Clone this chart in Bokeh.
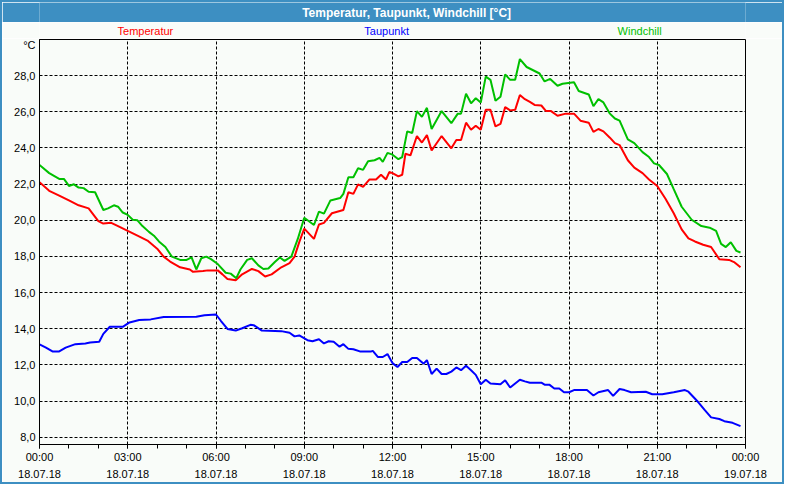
from bokeh.plotting import figure
from bokeh.models import Range1d, FixedTicker, Label
from bokeh.layouts import column
from bokeh.core.properties import value
from bokeh.embed import file_html
from bokeh.resources import INLINE

TITLE = "Temperatur, Taupunkt, Windchill [°C]"
UNIT = "°C"
SERIES_NAMES = ["Temperatur", "Taupunkt", "Windchill"]

X_TICKS = [0, 3, 6, 9, 12, 15, 18, 21, 24]
X_MINOR = list(range(0, 25))
X_TICK_LABELS = ["00:00\n18.07.18", "03:00\n18.07.18", "06:00\n18.07.18",
                 "09:00\n18.07.18", "12:00\n18.07.18", "15:00\n18.07.18",
                 "18:00\n18.07.18", "21:00\n18.07.18", "00:00\n19.07.18"]
Y_TICKS = [8, 10, 12, 14, 16, 18, 20, 22, 24, 26, 28]
Y_TICK_LABELS = ["8,0", "10,0", "12,0", "14,0", "16,0", "18,0", "20,0",
                 "22,0", "24,0", "26,0", "28,0"]

# time in hours since 18.07.18 00:00
TEMP_T = [0.0, 0.33, 0.67, 1.0, 1.33, 1.67, 2.0, 2.17, 2.44, 2.67, 3.0, 3.33, 3.67,
          4.0, 4.22, 4.44, 4.78, 5.11, 5.22, 5.56, 5.72, 6.06, 6.22, 6.39, 6.67,
          6.89, 7.22, 7.44, 7.67, 7.89, 8.22, 8.5, 8.67, 8.83, 9.0, 9.33, 9.5,
          9.67, 9.94, 10.33, 10.5, 10.67, 10.83, 11.0, 11.22, 11.44, 11.61, 11.78,
          11.89, 12.0, 12.2, 12.33, 12.44, 12.61, 12.83, 13.0, 13.17, 13.33,
          13.67, 14.0, 14.17, 14.33, 14.5, 14.67, 14.83, 15.0, 15.17, 15.33,
          15.5, 15.67, 15.83, 16.0, 16.17, 16.33, 16.5, 16.67, 16.83, 17.06,
          17.22, 17.39, 17.61, 17.89, 18.17, 18.39, 18.67, 18.83, 19.0, 19.17,
          19.39, 19.56, 19.72, 20.0, 20.22, 20.5, 20.72, 21.0, 21.28, 21.56,
          21.83, 22.06, 22.28, 22.56, 22.83, 23.11, 23.44, 23.61, 23.83]
TEMP_V = [22.11, 21.63, 21.37, 21.10, 20.83, 20.66, 19.95, 19.82, 19.86, 19.68,
          19.41, 19.15, 18.88, 18.43, 17.99, 17.72, 17.40, 17.28, 17.15, 17.19,
          17.23, 17.23, 17.01, 16.75, 16.69, 17.01, 17.31, 17.19, 16.89, 17.01,
          17.40, 17.63, 17.99, 18.79, 19.54, 18.97, 19.77, 19.86, 20.39, 20.57,
          21.55, 21.46, 21.99, 21.85, 22.26, 22.26, 22.52, 22.26, 22.67, 22.61,
          22.43, 22.52, 23.68, 23.59, 24.66, 24.30, 24.71, 23.86, 24.66, 23.98,
          24.44, 24.44, 25.40, 25.01, 25.23, 25.01, 26.11, 26.11, 25.19, 25.33,
          26.26, 26.08, 26.11, 26.93, 26.70, 26.55, 26.38, 26.35, 26.04, 26.04,
          25.78, 25.90, 25.90, 25.51, 25.40, 24.89, 25.05, 24.92, 24.57, 24.27,
          24.16, 23.32, 22.91, 22.61, 22.26, 21.90, 21.19, 20.39, 19.50, 19.00,
          18.83, 18.65, 18.52, 17.85, 17.81, 17.69, 17.40]

DEW_T = [0.0, 0.22, 0.44, 0.67, 0.89, 1.22, 1.56, 1.72, 2.03, 2.17, 2.39, 2.83,
         3.06, 3.39, 3.78, 4.22, 5.33, 5.61, 6.0, 6.17, 6.39, 6.67, 6.89, 7.17,
         7.28, 7.56, 8.22, 8.5, 8.67, 8.83, 9.11, 9.28, 9.5, 9.67, 9.83, 10.0,
         10.2, 10.33, 10.5, 10.67, 10.89, 11.28, 11.33, 11.5, 11.67, 11.83, 12.0,
         12.17, 12.33, 12.5, 12.67, 12.83, 13.06, 13.17, 13.33, 13.5, 13.67,
         13.83, 14.0, 14.17, 14.33, 14.5, 14.67, 14.83, 15.0, 15.17, 15.33,
         15.67, 15.83, 16.0, 16.33, 16.5, 16.67, 17.06, 17.17, 17.33, 17.5,
         17.67, 17.83, 18.0, 18.17, 18.61, 18.83, 19.0, 19.33, 19.5, 19.72,
         19.89, 20.11, 20.61, 20.83, 21.17, 21.56, 21.94, 22.06, 22.39, 22.61,
         22.83, 23.11, 23.28, 23.56, 23.83]
DEW_V = [13.14, 12.96, 12.75, 12.75, 12.96, 13.15, 13.19, 13.24, 13.28, 13.72,
         14.11, 14.11, 14.35, 14.49, 14.52, 14.65, 14.67, 14.75, 14.79, 14.43,
         13.99, 13.90, 14.03, 14.22, 14.20, 13.90, 13.87, 13.78, 13.58, 13.63,
         13.37, 13.31, 13.42, 13.19, 13.31, 13.28, 13.01, 13.15, 12.89, 12.87,
         12.75, 12.75, 12.78, 12.44, 12.44, 12.60, 12.10, 11.89, 12.16, 12.16,
         12.39, 12.39, 12.07, 12.27, 11.50, 11.80, 11.50, 11.50, 11.63, 11.86,
         11.71, 11.95, 11.71, 11.45, 10.93, 11.18, 10.97, 10.93, 11.15, 10.75,
         11.18, 11.09, 11.02, 11.02, 10.91, 10.91, 10.70, 10.70, 10.49, 10.49,
         10.61, 10.61, 10.31, 10.49, 10.61, 10.29, 10.67, 10.61, 10.49, 10.52,
         10.38, 10.38, 10.49, 10.61, 10.52, 9.95, 9.51, 9.10, 9.01, 8.89, 8.80,
         8.62]

WIND_T = [0.0, 0.33, 0.67, 0.83, 1.0, 1.17, 1.33, 1.5, 1.67, 1.89, 2.17, 2.33,
          2.53, 2.67, 2.83, 3.0, 3.17, 3.33, 3.5, 3.72, 3.89, 4.06, 4.28, 4.5,
          4.78, 5.0, 5.17, 5.33, 5.5, 5.67, 5.83, 6.06, 6.33, 6.5, 6.69, 6.83,
          7.06, 7.22, 7.44, 7.61, 7.78, 8.0, 8.17, 8.33, 8.56, 8.78, 9.0, 9.33,
          9.5, 9.67, 9.89, 10.22, 10.33, 10.5, 10.67, 10.83, 11.0, 11.17, 11.39,
          11.56, 11.67, 11.83, 12.0, 12.2, 12.33, 12.5, 12.67, 12.83, 13.0,
          13.17, 13.33, 13.67, 14.0, 14.22, 14.33, 14.5, 14.67, 14.83, 15.0,
          15.17, 15.33, 15.5, 15.67, 15.83, 16.0, 16.17, 16.33, 16.56, 16.78,
          17.0, 17.17, 17.36, 17.61, 17.78, 18.17, 18.33, 18.67, 18.83, 19.0,
          19.17, 19.39, 19.56, 19.72, 20.0, 20.22, 20.5, 20.72, 20.89, 21.06,
          21.33, 21.56, 21.83, 22.17, 22.5, 22.78, 23.0, 23.17, 23.33, 23.5,
          23.69, 23.83]
WIND_V = [23.06, 22.61, 22.29, 22.29, 21.90, 21.99, 21.81, 21.78, 21.58, 21.55,
          20.57, 20.66, 20.83, 20.75, 20.43, 20.30, 20.03, 20.00, 19.68, 19.36,
          19.15, 18.83, 18.52, 17.99, 17.81, 17.81, 17.95, 17.28, 17.90, 17.99,
          17.85, 17.58, 17.10, 17.05, 16.80, 17.28, 17.81, 17.90, 17.51, 17.31,
          17.33, 17.69, 17.94, 17.76, 17.99, 18.97, 20.14, 19.74, 20.48, 20.37,
          21.10, 21.23, 21.46, 22.38, 22.38, 22.88, 22.79, 23.27, 23.32, 23.45,
          23.23, 23.73, 23.63, 23.38, 23.50, 24.92, 24.83, 26.04, 25.72, 26.22,
          25.05, 26.04, 25.37, 25.90, 25.90, 27.00, 26.47, 26.75, 26.51, 27.95,
          27.77, 26.61, 26.83, 28.07, 27.77, 27.77, 28.92, 28.48, 28.30, 28.12,
          27.68, 27.82, 27.44, 27.55, 27.63, 27.15, 26.96, 26.31, 26.70, 26.52,
          25.90, 25.63, 25.51, 24.48, 24.27, 23.77, 23.50, 23.15, 23.06, 22.56,
          21.72, 20.75, 20.03, 19.68, 19.59, 19.41, 18.70, 18.52, 18.79, 18.31,
          18.22]

# styling / layout constants
BAR = "#3D8FC2"
BG = "#F9FCF9"
RED = "#FF0000"
BLUE = "#0000FF"
GREEN = "#00C000"
FONT = "Liberation Sans"
W = 780
SIDE = 37
LEG_X = [3.6, 11.8, 20.4]       # legend text centres (hours)
UNIT_Y = 29.68                   # position of the unit text on the y axis

# --- title bar ---
bar = figure(width=W, height=20, x_range=Range1d(0, 1), y_range=Range1d(0, 1),
             toolbar_location=None, output_backend="svg", title_location=None,
             x_axis_type=None, y_axis_type=None, min_border=0,
             background_fill_color=BAR, border_fill_color=BAR,
             outline_line_color=None)
bar.add_layout(Label(x=0.52, y=0.5, text=TITLE, text_align="center",
                     text_baseline="middle", text_color="white",
                     text_font_style="bold", text_font_size="12px",
                     text_font=FONT))

# --- main plot ---
p = figure(width=W, height=444, x_range=Range1d(0, 24), y_range=Range1d(7.6, 30.0),
           toolbar_location=None, output_backend="svg", title_location=None,
           min_border_left=SIDE, min_border_right=SIDE, min_border_top=1,
           min_border_bottom=37, background_fill_color=BG, border_fill_color=BG,
           outline_line_color="black", outline_line_width=1)

# --- legend strip (shares the x range) ---
leg = figure(width=W, height=16, x_range=p.x_range, y_range=Range1d(0, 1),
             toolbar_location=None, output_backend="svg", title_location=None,
             x_axis_type=None, y_axis_type=None, min_border_left=SIDE,
             min_border_right=SIDE, min_border_top=0, min_border_bottom=0,
             background_fill_color=BG, border_fill_color=BG,
             outline_line_color=None)
leg.text(x=LEG_X, y=[0.5] * 3, text=SERIES_NAMES,
         text_color=[RED, BLUE, GREEN], text_align="center",
         text_baseline="middle", text_font=value(FONT), text_font_size="11px")

p.xaxis.ticker = FixedTicker(ticks=X_TICKS, minor_ticks=X_MINOR)
p.xaxis.major_label_overrides = dict(zip(X_TICKS, X_TICK_LABELS))
p.xaxis.major_tick_in = 0
p.xaxis.major_tick_out = 4
p.xaxis.minor_tick_in = 0
p.xaxis.minor_tick_out = 4
p.xaxis.major_label_standoff = 2
p.xaxis.major_label_text_line_height = 1.45

y_overrides = dict(zip(Y_TICKS, Y_TICK_LABELS))
y_overrides[UNIT_Y] = UNIT
p.yaxis.ticker = FixedTicker(ticks=Y_TICKS + [UNIT_Y])
p.yaxis.major_label_overrides = y_overrides
p.yaxis.major_tick_in = 0
p.yaxis.major_tick_out = 0
p.yaxis.minor_tick_in = 0
p.yaxis.minor_tick_out = 0
p.yaxis.major_label_standoff = 4
p.ygrid.ticker = FixedTicker(ticks=Y_TICKS)

for ax in (p.xaxis, p.yaxis):
    ax.axis_line_color = "black"
    ax.major_tick_line_color = "black"
    ax.minor_tick_line_color = "black"
    ax.major_label_text_font = FONT
    ax.major_label_text_font_size = "11px"
    ax.major_label_text_color = "black"

p.grid.grid_line_color = "black"
p.grid.grid_line_dash = "3 2"
p.grid.grid_line_width = 1

p.line(DEW_T, DEW_V, color=BLUE, line_width=2)
p.line(TEMP_T, TEMP_V, color=RED, line_width=2)
p.line(WIND_T, WIND_V, color=GREEN, line_width=2)

layout = column(bar, leg, p, spacing=0, styles={"border": "2px solid " + BAR})

open("out.html", "w").write(file_html(layout, INLINE))
